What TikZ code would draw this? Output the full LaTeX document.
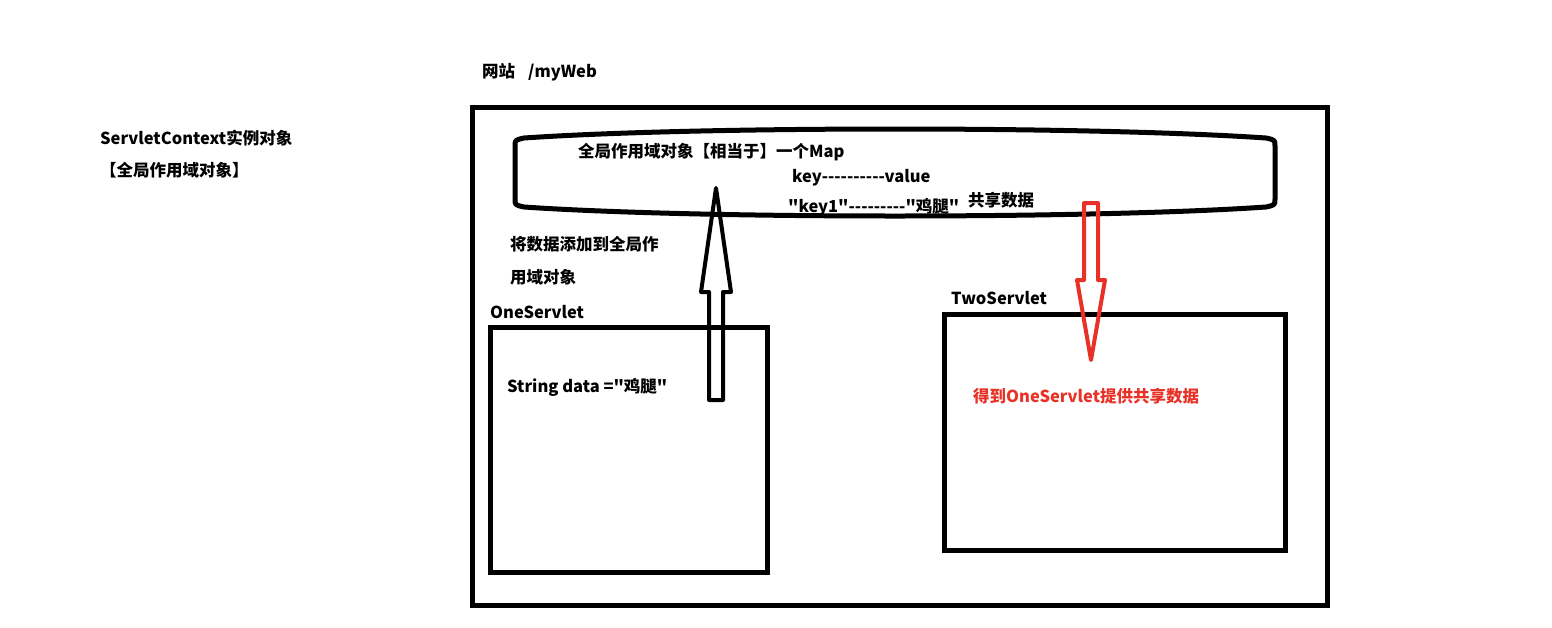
\documentclass[tikz,border=0pt]{standalone}
\usepackage{fontspec}
\newfontfamily\cjk{Noto Sans CJK SC}
\usetikzlibrary{positioning}

\definecolor{getred}{RGB}{232,50,40}

\tikzset{
  lbl/.style={anchor=west, inner sep=0pt, font=\cjk\bfseries\fontsize{16.5}{18}\selectfont},
  box/.style={draw, line width=5pt, anchor=north west, inner sep=0pt},
  hollowarrow/.style={line width=4pt, line join=round}
}

\begin{document}
\begin{tikzpicture}[x=1pt,y=-1pt]
                \useasboundingbox (0,0) rectangle (1552,627);

                % left side note
                \node[lbl] (ctxA) at (100,138) {ServletContext实例对象};
                \node[lbl] (ctxB) at (100,170) {【全局作用域对象】};

                % the web site
                \node[lbl] (site) at (482,72) {网站\hspace{13pt}/myWeb};
                \node[box, minimum width=855pt, minimum height=498pt] (web) at (470,105) {};

                % global scope object (the map)
                \draw[line width=5pt, line join=round]
                    (515,146) -- (515,199) .. controls (515,205) .. (524,207)
                    .. controls (700,219) and (1090,219) .. (1266,207)
                    .. controls (1275,205) .. (1275,199) -- (1275,146)
                    .. controls (1275,140) .. (1266,138)
                    .. controls (1090,126) and (700,126) .. (524,138)
                    .. controls (515,140) .. (515,146) -- cycle;
                \node[lbl] (mapTitle) at (578,152) {全局作用域对象【相当于】一个Map};
                \node[lbl] (kv) at (792,178) {key----------value};
                \node[lbl] (kvOne) at (788,207) {"key1"---------"鸡腿"};
                \node[lbl] (shared) at (968,200) {共享数据};

                % OneServlet
                \node[lbl] (addA) at (510,244) {将数据添加到全局作};
                \node[lbl] (addB) at (510,277) {用域对象};
                \node[lbl] (oneLbl) at (490,312) {OneServlet};
                \node[box, minimum width=277pt, minimum height=245pt] (oneBox) at (488,325) {};
                \node[lbl] (data) at (507,387) {String data ="鸡腿"};

                % TwoServlet
                \node[lbl] (twoLbl) at (951,298) {TwoServlet};
                \node[box, minimum width=341pt, minimum height=236pt] (twoBox) at (942,312) {};
                \node[lbl, text=getred] (getData) at (973,396) {得到OneServlet提供共享数据};

                % put into the map
                \coordinate (upTail) at (716,400);
                \coordinate (upTip) at (716,188);
                \draw[hollowarrow] (upTail) ++(-7,0) -- ++(0,-108) -- ++(-8,0) -- (upTip)
                    -- ++(15,104) -- ++(-8,0) -- ++(0,108) -- cycle;

                % take out of the map
                \coordinate (dnTail) at (1091,203);
                \coordinate (dnTip) at (1091,360);
                \draw[hollowarrow, getred] (dnTail) ++(-7,0) -- ++(0,77) -- ++(-7,0) -- (dnTip)
                    -- ++(14,-80) -- ++(-7,0) -- ++(0,-77) -- cycle;
            \end{tikzpicture}
\end{document}
